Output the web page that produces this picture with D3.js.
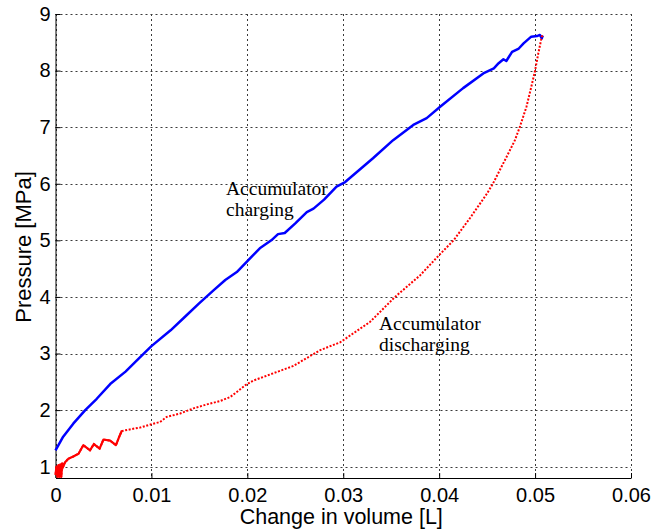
<!DOCTYPE html>
<html>
<head>
<meta charset="utf-8">
<script src="https://cdn.jsdelivr.net/npm/d3@7"></script>
<style>
  body { margin: 0; background: white; }
  svg { display: block; }
</style>
</head>
<body>
<div id="chart-container"></div>
<script>
// chart size, the plot box is placed by hand to match the matlab figure
const width = 655;
const height = 532;
const plotLeft = 55.5;
const plotRight = 631;
const plotTop = 14;
const plotBottom = 478;

// accumulator charging (blue), volume [L] vs pressure [MPa]
const chargeVol = [0, 0.0008, 0.00185, 0.0031, 0.0043, 0.0057, 0.0073, 0.0088, 0.010, 0.012,
  0.0135, 0.015, 0.0165, 0.0177, 0.0189, 0.0213, 0.0225, 0.0232, 0.0239, 0.0250, 0.0262,
  0.0269, 0.0280, 0.0293, 0.0302, 0.0331, 0.0352, 0.0373, 0.0387, 0.0401, 0.0425, 0.0446,
  0.0457, 0.0462, 0.0467, 0.0470, 0.0476, 0.0483, 0.0488, 0.0496, 0.0502, 0.0505, 0.0507, 0.0508];
const chargeP = [1.29, 1.53, 1.76, 2.0, 2.2, 2.46, 2.68, 2.93, 3.13, 3.41,
  3.65, 3.89, 4.12, 4.30, 4.44, 4.86, 5.0, 5.11, 5.13, 5.30, 5.50,
  5.56, 5.72, 5.95, 6.03, 6.45, 6.77, 7.04, 7.16, 7.36, 7.69, 7.95,
  8.04, 8.13, 8.20, 8.17, 8.33, 8.39, 8.48, 8.60, 8.61, 8.63, 8.57, 8.62];

// accumulator discharging (red), from full back to empty
const dischargeVol = [0.0508, 0.0507, 0.05033, 0.0500, 0.0496, 0.0491, 0.0484, 0.0479, 0.0474,
  0.0465, 0.0456, 0.0450, 0.0432, 0.0415, 0.0400, 0.0380, 0.0354, 0.0328, 0.0297, 0.0276,
  0.0265, 0.0248, 0.0227, 0.0206, 0.0198, 0.0189, 0.0182, 0.01715, 0.01576, 0.01437, 0.013,
  0.0116, 0.0109, 0.0100, 0.0088, 0.0081, 0.0069, 0.00665, 0.0063, 0.0057, 0.0050, 0.0046,
  0.0040, 0.0036, 0.0029, 0.0024, 0.00185, 0.00134, 0.0010, 0.0008, 0.0007, 0.0006, 0.0005,
  0.0004, 0.0003, 0.0002, 0.0001, 0];
const dischargeP = [8.62, 8.6, 8.3, 8.0, 7.71, 7.36, 7.0, 6.77, 6.6,
  6.3, 6.0, 5.83, 5.39, 5.0, 4.74, 4.38, 4.0, 3.56, 3.2, 3.06,
  2.95, 2.78, 2.65, 2.52, 2.44, 2.32, 2.23, 2.16, 2.10, 2.03, 1.94,
  1.88, 1.79, 1.75, 1.69, 1.67, 1.63, 1.53, 1.38, 1.46, 1.48, 1.32,
  1.40, 1.29, 1.38, 1.23, 1.18, 1.14, 1.08, 1.0, 1.06, 0.82, 1.04,
  0.82, 1.03, 0.82, 1.0, 0.85];

// ticks
const xTicks = [0, 0.01, 0.02, 0.03, 0.04, 0.05, 0.06];
const yTicks = [1, 2, 3, 4, 5, 6, 7, 8, 9];

const svg = d3.select("#chart-container")
  .append("svg")
  .attr("width", width)
  .attr("height", height);

const x = d3.scaleLinear().domain([0, 0.06]).range([plotLeft, plotRight]);
const y = d3.scaleLinear().domain([0.8, 9]).range([plotBottom, plotTop]);

// dotted grid
const grid = svg.append("g")
  .attr("stroke", "#3a3a3a")
  .attr("stroke-width", 1)
  .attr("stroke-dasharray", "2,3");

grid.selectAll(".vgrid")
  .data(xTicks)
  .enter()
  .append("line")
  .attr("x1", d => Math.round(x(d)) + 0.5)
  .attr("x2", d => Math.round(x(d)) + 0.5)
  .attr("y1", plotTop)
  .attr("y2", plotBottom);

grid.selectAll(".hgrid")
  .data(yTicks)
  .enter()
  .append("line")
  .attr("x1", plotLeft)
  .attr("x2", plotRight)
  .attr("y1", d => Math.round(y(d)) + 0.5)
  .attr("y2", d => Math.round(y(d)) + 0.5);

// axes, matlab style ticks pointing inwards
const xAxis = svg.append("g")
  .attr("transform", `translate(0, ${plotBottom})`)
  .call(d3.axisBottom(x).tickValues(xTicks).tickFormat(d => d === 0 ? "0" : d3.format(".2f")(d))
    .tickSizeInner(-5).tickSizeOuter(0).tickPadding(10));

const yAxis = svg.append("g")
  .attr("transform", `translate(${plotLeft}, 0)`)
  .call(d3.axisLeft(y).tickValues(yTicks).tickFormat(d3.format("d"))
    .tickSizeInner(-5).tickSizeOuter(0).tickPadding(5));

[xAxis, yAxis].forEach(a => {
  a.selectAll("text")
    .attr("font-family", "'Liberation Sans', Arial, sans-serif")
    .attr("font-size", 20)
    .attr("fill", "black");
  a.select(".domain").attr("stroke", "black");
  a.selectAll(".tick line").attr("stroke", "black");
});
// keep the y axis line only on the plotted range
yAxis.select(".domain").attr("d", `M0.5,${plotTop}V${plotBottom}`);

const line = d3.line()
  .x(d => x(d[0]))
  .y(d => y(d[1]));

const chargeData = chargeVol.map((v, i) => [v, chargeP[i]]);
const dischargeData = dischargeVol.map((v, i) => [v, dischargeP[i]]);

svg.append("path")
  .datum(chargeData)
  .attr("d", line)
  .attr("fill", "none")
  .attr("stroke", "#0000ff")
  .attr("stroke-width", 2.5)
  .attr("stroke-linejoin", "round");

svg.append("path")
  .datum(dischargeData)
  .attr("d", line)
  .attr("fill", "none")
  .attr("stroke", "#ff0000")
  .attr("stroke-width", 2)
  .attr("stroke-dasharray", "2,1.6");

// the noisy start of the discharge is so dense it reads as solid
svg.append("path")
  .datum(dischargeData.filter(d => d[0] <= 0.0069))
  .attr("d", line)
  .attr("fill", "none")
  .attr("stroke", "#ff0000")
  .attr("stroke-width", 2.2)
  .attr("stroke-linejoin", "round");

// axis labels
svg.append("text")
  .attr("x", (plotLeft + plotRight) / 2 - 2)
  .attr("y", 524)
  .attr("text-anchor", "middle")
  .attr("font-family", "'Liberation Sans', Arial, sans-serif")
  .attr("font-size", 21.5)
  .text("Change in volume [L]");

svg.append("text")
  .attr("transform", `translate(31, 247) rotate(-90)`)
  .attr("text-anchor", "middle")
  .attr("font-family", "'Liberation Sans', Arial, sans-serif")
  .attr("font-size", 22)
  .text("Pressure [MPa]");

// annotations
const notes = [
  { lines: ["Accumulator", "charging"], x: 226, y: 195 },
  { lines: ["Accumulator", "discharging"], x: 379, y: 330 }
];

notes.forEach(n => {
  const t = svg.append("text")
    .attr("font-family", "'Liberation Serif', 'Times New Roman', serif")
    .attr("font-size", 19.5)
    .attr("fill", "black");
  n.lines.forEach((l, i) => {
    t.append("tspan")
      .attr("x", n.x)
      .attr("y", n.y + i * 21)
      .text(l);
  });
});
</script>
</body>
</html>
